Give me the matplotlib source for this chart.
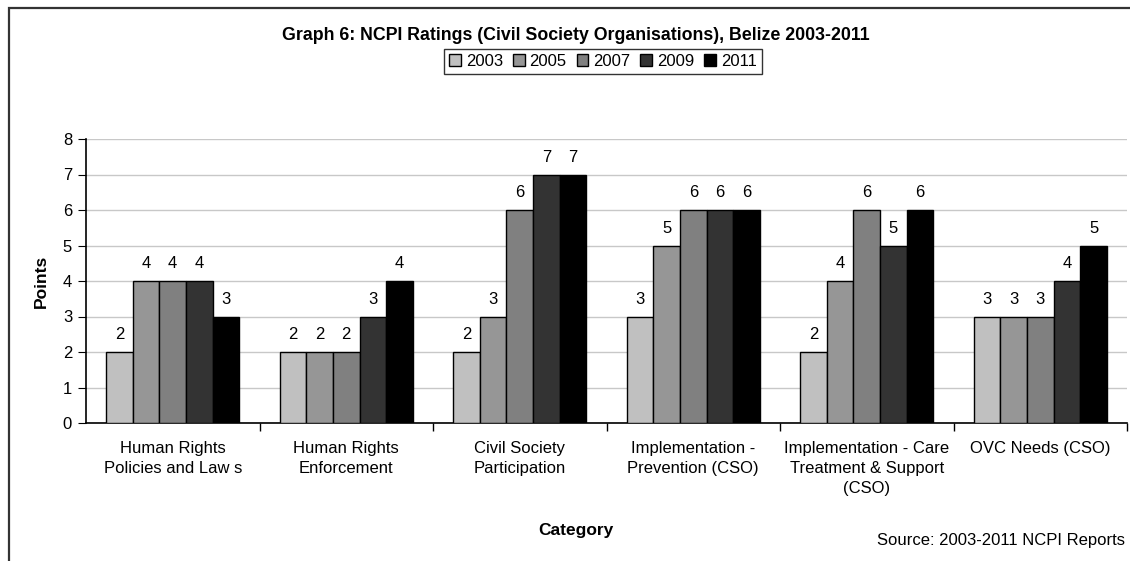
import numpy as np
import matplotlib.pyplot as plt
from matplotlib.patches import Rectangle

plt.rcParams['font.family'] = ['Liberation Sans', 'DejaVu Sans']

categories = ["Human Rights\nPolicies and Law s", "Human Rights\nEnforcement",
              "Civil Society\nParticipation", "Implementation -\nPrevention (CSO)",
              "Implementation - Care\nTreatment & Support\n(CSO)", "OVC Needs (CSO)"]
years = ["2003", "2005", "2007", "2009", "2011"]
v2003 = [2, 2, 2, 3, 2, 3]
v2005 = [4, 2, 3, 5, 4, 3]
v2007 = [4, 2, 6, 6, 6, 3]
v2009 = [4, 3, 7, 6, 5, 4]
v2011 = [3, 4, 7, 6, 6, 5]
series = [v2003, v2005, v2007, v2009, v2011]
colors = ["#C0C0C0", "#969696", "#808080", "#333333", "#000000"]

fig = plt.figure(figsize=(11.3, 5.61), dpi=100)
ax = fig.add_axes([86 / 1130, 1 - 423 / 561, (1127 - 86) / 1130, (423 - 139) / 561])

# outer frame (cut off at right and bottom like the original)
fig.patches.append(Rectangle((8.5 / 1130, -0.1), 1.2, 1.1 - 7.5 / 561,
                             transform=fig.transFigure, fill=False,
                             edgecolor="#333333", linewidth=1.6))

x = np.arange(len(categories))
w = 1 / 6.5
for i, (yr, vals) in enumerate(zip(years, series)):
    pos = x + (i - 2) * w
    ax.bar(pos, vals, w, color=colors[i], edgecolor="black", linewidth=1, label=yr, zorder=3)
    for p, v in zip(pos, vals):
        ax.text(p, v + 0.27, str(v), ha="center", va="bottom", fontsize=12)

ax.set_xlim(-0.5, len(categories) - 0.5)
ax.set_ylim(0, 8)
ax.set_yticks(range(0, 9))
ax.yaxis.grid(True, color="#C8C8C8", linewidth=1, zorder=0)
ax.set_xticks(x)
ax.set_xticklabels(categories, fontsize=12, linespacing=1.4)
ax.set_xticks(np.arange(0.5, len(categories), 1), minor=True)
ax.tick_params(axis="x", which="major", length=0, pad=13)
ax.tick_params(axis="x", which="minor", length=6, direction="out", width=1)
ax.tick_params(axis="y", length=6, direction="out", labelsize=12, pad=4)
for s in ["top", "right"]:
    ax.spines[s].set_visible(False)
ax.spines["left"].set_linewidth(1.2)
ax.spines["bottom"].set_linewidth(1.2)

ax.set_ylabel("Points", fontsize=12.5, fontweight="bold", labelpad=10)
fig.text(576 / 1130, 1 - 530 / 561, "Category", ha="center", va="center",
         fontsize=12.5, fontweight="bold")
fig.text(576 / 1130, 1 - 35 / 561, "Graph 6: NCPI Ratings (Civil Society Organisations), Belize 2003-2011",
         ha="center", va="center", fontsize=12.8, fontweight="bold")
fig.text(1125 / 1130, 1 - 540 / 561, "Source: 2003-2011 NCPI Reports", ha="right", va="center",
         fontsize=12)

leg = fig.legend(loc="center", bbox_to_anchor=(603 / 1130, 1 - 61 / 561), ncol=5,
                 fontsize=12, frameon=True, fancybox=False, handlelength=0.7,
                 handleheight=0.7, handletextpad=0.3, columnspacing=0.6,
                 borderpad=0.3, edgecolor="black")
leg.get_frame().set_linewidth(1)

fig.savefig("out.png", dpi=100)
